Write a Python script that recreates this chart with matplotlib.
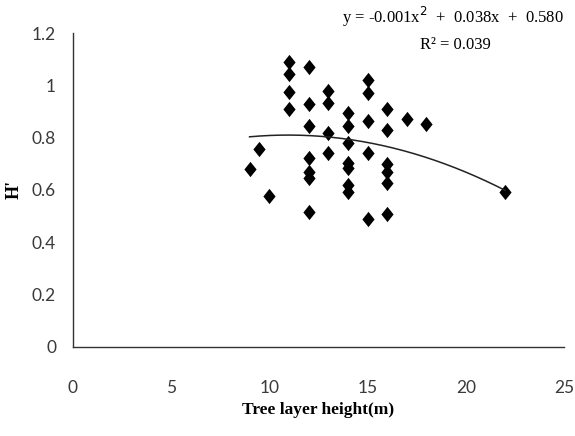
import numpy as np
import matplotlib
matplotlib.use("Agg")
import matplotlib.pyplot as plt
from matplotlib.path import Path

# Data
height = [9, 9.5, 10,
          11, 11, 11, 11,
          12, 12, 12, 12, 12, 12, 12,
          13, 13, 13, 13,
          14, 14, 14, 14, 14, 14, 14,
          15, 15, 15, 15, 15,
          16, 16, 16, 16, 16, 16,
          17, 18, 22]
diversity = [0.68, 0.755, 0.577,
             1.09, 1.042, 0.976, 0.908,
             1.069, 0.928, 0.845, 0.721, 0.669, 0.644, 0.516,
             0.979, 0.933, 0.819, 0.742,
             0.895, 0.845, 0.778, 0.702, 0.682, 0.619, 0.593,
             1.02, 0.969, 0.863, 0.74, 0.487,
             0.909, 0.829, 0.70, 0.67, 0.625, 0.507,
             0.87, 0.851, 0.593]
x_ticks = [0, 5, 10, 15, 20, 25]
y_ticks = [0, 0.2, 0.4, 0.6, 0.8, 1.0, 1.2]
y_ticklabels = ["0", "0.2", "0.4", "0.6", "0.8", "1", "1.2"]
equation = "y = -0.001x$^2$  +  0.038x  +  0.580"
r2_text = "R² = 0.039"

fig = plt.figure(figsize=(5.75, 4.36), dpi=100)
ax = fig.add_axes([0.1264, 0.2048, 0.981 - 0.1264, 0.9243 - 0.2048])

diamond = Path([(0, 1), (0.8, 0), (0, -1), (-0.8, 0), (0, 1)],
               [Path.MOVETO, Path.LINETO, Path.LINETO, Path.LINETO, Path.CLOSEPOLY])
ax.plot(height, diversity, linestyle='none', marker=diamond, markersize=11,
        color='black', markeredgewidth=0)

# quadratic trend line
coef = np.polyfit(height, diversity, 2)
xs = np.linspace(min(height), max(height), 200)
ax.plot(xs, np.polyval(coef, xs), color='#222222', linewidth=1.1)

ax.set_xlim(0, 25)
ax.set_ylim(0, 1.2)
ax.set_xticks(x_ticks)
ax.set_yticks(y_ticks)
ax.set_yticklabels(y_ticklabels)

for lab in ax.get_xticklabels() + ax.get_yticklabels():
    lab.set_fontfamily(['Lato', 'DejaVu Sans'])
    lab.set_fontsize(12.5)
    lab.set_color('#3a3a3a')
ax.tick_params(axis='x', length=0, pad=24)
ax.tick_params(axis='y', length=0, pad=12)

for s in ['top', 'right']:
    ax.spines[s].set_visible(False)
for s in ['left', 'bottom']:
    ax.spines[s].set_color('#333333')
    ax.spines[s].set_linewidth(1.0)

ax.set_xlabel("Tree layer height(m)", family=['Liberation Serif', 'DejaVu Serif'],
              fontweight='bold', fontsize=12.5, labelpad=4)
fig.text(0.025, 0.565, "H'", rotation=90, family=['Liberation Serif', 'DejaVu Serif'],
         fontweight='bold', fontsize=13, ha='center', va='center')

fig.text(0.787, 0.962, equation, family=['Liberation Serif', 'DejaVu Serif'],
         fontsize=12, ha='center', va='center')
fig.text(0.792, 0.897, r2_text, family=['Liberation Serif', 'DejaVu Serif'],
         fontsize=12, ha='center', va='center')

fig.savefig("out.png", dpi=100)
